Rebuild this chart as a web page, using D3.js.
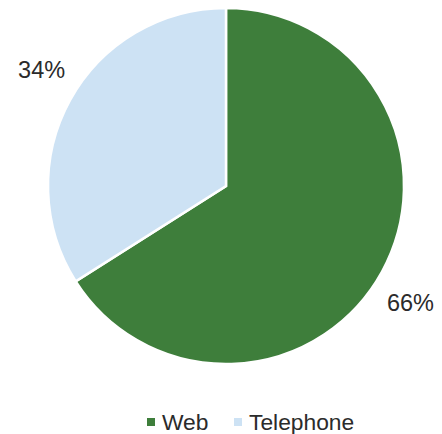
<!DOCTYPE html>
<html>
<head>
<meta charset="utf-8">
<script src="https://cdn.jsdelivr.net/npm/d3@7"></script>
<style>
  html, body { margin: 0; padding: 0; background: #fff; }
  svg { display: block; font-family: "Liberation Sans", Arial, sans-serif; }
</style>
</head>
<body>
<svg id="chart" width="442" height="434"></svg>
<script>
const categories = ["Web", "Telephone"];
const values = [66, 34];
const colors = ["#3e7e3b", "#cde2f4"];

const svg = d3.select("#chart");
const cx = 226, cy = 186, radius = 178;

const pie = d3.pie().sort(null).value(d => d.value);
const arcs = pie(categories.map((c, i) => ({ name: c, value: values[i] })));

const color = d3.scaleOrdinal().domain(categories).range(colors);
const arc = d3.arc().innerRadius(0).outerRadius(radius);

const g = svg.append("g").attr("transform", `translate(${cx},${cy})`);

g.selectAll("path.slice")
  .data(arcs)
  .join("path")
  .attr("class", "slice")
  .attr("d", arc)
  .attr("fill", d => color(d.data.name))
  .attr("stroke", "#fff")
  .attr("stroke-width", 2.5)
  .attr("stroke-linejoin", "miter");

// Percentage labels sit just outside the rim, nudged slightly clockwise
const labelR = 218, labelShift = 0.06;
const total = d3.sum(values);
g.selectAll("text.pct")
  .data(arcs)
  .join("text")
  .attr("class", "pct")
  .attr("transform", d => {
    const a = (d.startAngle + d.endAngle) / 2 + labelShift;
    return `translate(${labelR * Math.sin(a)},${-labelR * Math.cos(a)})`;
  })
  .attr("text-anchor", "middle")
  .attr("dy", "0.36em")
  .attr("font-size", 23.5)
  .attr("fill", "#2b2b2b")
  .text(d => Math.round(d.data.value / total * 100) + "%");

// Legend
const legend = svg.append("g").attr("transform", "translate(0,422)");
const items = [{ name: "Web", x: 147 }, { name: "Telephone", x: 234 }];
const li = legend.selectAll("g").data(items).join("g")
  .attr("transform", d => `translate(${d.x},0)`);
li.append("rect")
  .attr("x", 0).attr("y", -4).attr("width", 8).attr("height", 8)
  .attr("fill", d => color(d.name));
li.append("text")
  .attr("x", 15).attr("y", 7.5)
  .attr("font-size", 22.8)
  .attr("fill", "#2b2b2b")
  .text(d => d.name);
</script>
</body>
</html>
